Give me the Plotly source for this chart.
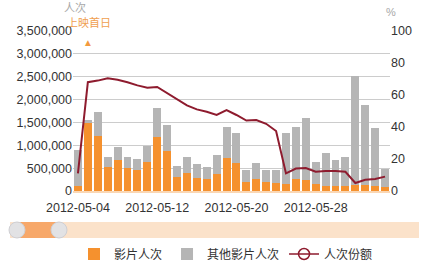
import plotly.graph_objects as go
import pandas as pd

dates = pd.date_range("2012-05-04", "2012-06-04", freq="D").strftime("%Y-%m-%d").tolist()
film = [100000, 1490000, 1200000, 525000, 680000, 500000, 460000, 635000, 1180000, 875000,
        310000, 390000, 280000, 260000, 370000, 720000, 615000, 200000, 260000, 200000,
        170000, 160000, 260000, 240000, 150000, 110000, 100000, 100000, 125000, 130000,
        110000, 80000]
other = [800000, 70000, 530000, 220000, 280000, 245000, 240000, 350000, 630000, 565000,
         240000, 355000, 310000, 265000, 420000, 680000, 655000, 260000, 350000, 260000,
         290000, 1110000, 1140000, 1360000, 490000, 720000, 580000, 645000, 2395000, 1750000,
         1270000, 400000]
share = [11, 68, 69, 70.5, 69.5, 68, 66, 64.5, 65, 61,
         57, 53.5, 51, 49.5, 47.5, 50.5, 47.5, 44, 44.4, 42,
         37.5, 11, 14, 14.4, 12, 12.5, 12.5, 12, 5, 7,
         7.5, 9]
left_ticks = [0, 500000, 1000000, 1500000, 2000000, 2500000, 3000000, 3500000]
left_labels = ["0", "500,000", "1,000,000", "1,500,000", "2,000,000", "2,500,000", "3,000,000", "3,500,000"]
right_ticks = [0, 20, 40, 60, 80, 100]
date_ticks = ["2012-05-04", "2012-05-12", "2012-05-20", "2012-05-28"]
names = ["影片人次", "其他影片人次", "人次份额"]
release_day = "2012-05-05"

ORANGE = "#F5912E"
GRAY = "#B5B5B5"
RED = "#8E1B2E"
FONT = "Liberation Sans, Arial, sans-serif"

fig = go.Figure()
fig.add_trace(go.Bar(x=dates, y=film, name=names[0], marker_color=ORANGE, marker_line_width=0))
fig.add_trace(go.Bar(x=dates, y=other, name=names[1], marker_color=GRAY, marker_line_width=0))
fig.add_trace(go.Scatter(x=dates, y=share, yaxis="y2", mode="lines", line=dict(color=RED, width=2),
                         showlegend=False, hoverinfo="skip"))
fig.add_trace(go.Scatter(x=[None], y=[None], yaxis="y2", mode="lines+markers", name=names[2],
                         line=dict(color=RED, width=1.5),
                         marker=dict(symbol="circle-open", size=11, color=RED, line=dict(width=1.5))))

W, H = 432, 272
L, R, T, B = 73, 42, 31, 81
pw, ph = W - L - R, H - T - B
def px(xp):
    return (xp - L) / pw
def py(yp):
    return (H - B - yp) / ph

shapes = [
    dict(type="rect", xref="paper", yref="paper", x0=px(10), x1=px(419), y0=py(238), y1=py(222),
         fillcolor="#FBE2CA", line=dict(width=0), layer="above"),
    dict(type="rect", xref="paper", yref="paper", x0=px(17), x1=px(58), y0=py(238), y1=py(222),
         fillcolor="#F7A86A", line=dict(width=0), layer="above"),
    dict(type="circle", xref="paper", yref="paper", x0=px(9), x1=px(25), y0=py(238), y1=py(222),
         fillcolor="#E2E2E4", line=dict(color="#CFCFD3", width=1), layer="above"),
    dict(type="circle", xref="paper", yref="paper", x0=px(51), x1=px(67), y0=py(238), y1=py(222),
         fillcolor="#E2E2E4", line=dict(color="#CFCFD3", width=1), layer="above"),
]

annotations = [
    dict(text="人次", xref="paper", yref="paper", x=px(75), y=py(7), xanchor="center", yanchor="middle",
         showarrow=False, font=dict(family="Noto Sans CJK SC", size=11, color="#A8A8A8")),
    dict(text="上映首日", xref="paper", yref="paper", x=px(89), y=py(21.5), xanchor="center", yanchor="middle",
         showarrow=False, font=dict(family="Noto Sans CJK SC", size=11, color="#F0A050")),
    dict(text="▲", xref="x", yref="paper", x=release_day, y=py(42), xanchor="center", yanchor="middle",
         showarrow=False, font=dict(size=10, color="#F39A3E")),
    dict(text="%", xref="paper", yref="paper", x=px(391), y=py(12), xanchor="center", yanchor="middle",
         showarrow=False, font=dict(family=FONT, size=11, color="#A8A8A8")),
]

fig.update_layout(
    width=W, height=H, margin=dict(l=L, r=R, t=T, b=B, autoexpand=False),
    paper_bgcolor="white", plot_bgcolor="white",
    barmode="stack", bargap=0.2,
    font=dict(family=FONT, size=12.5, color="#333333"),
    xaxis=dict(type="date", tickvals=date_ticks, ticktext=date_ticks, showgrid=False,
               range=["2012-05-03 12:00", "2012-06-04 12:00"], ticks="", showline=True,
               linecolor="#FAD7B4", linewidth=2, tickfont=dict(size=12.5, color="#333333"),
               ticklabelstandoff=4, automargin=False),
    yaxis=dict(range=[0, 3500000], tickvals=left_ticks, ticktext=left_labels,
               gridcolor="#CCCCCC", gridwidth=1, zeroline=False, ticks="",
               tickfont=dict(size=12.5, color="#333333"), automargin=False),
    yaxis2=dict(range=[0, 100], tickvals=right_ticks, overlaying="y", side="right",
                showgrid=False, zeroline=False, ticks="", tickfont=dict(size=12.5, color="#333333"),
                automargin=False),
    legend=dict(orientation="h", xanchor="center", x=px(226), yanchor="middle", y=py(254),
                font=dict(family="Noto Sans CJK SC", size=12, color="#333333"),
                traceorder="normal", itemwidth=30, tracegroupgap=0, bgcolor="rgba(0,0,0,0)"),
    shapes=shapes, annotations=annotations, showlegend=True,
)

fig.write_html("out.html")
